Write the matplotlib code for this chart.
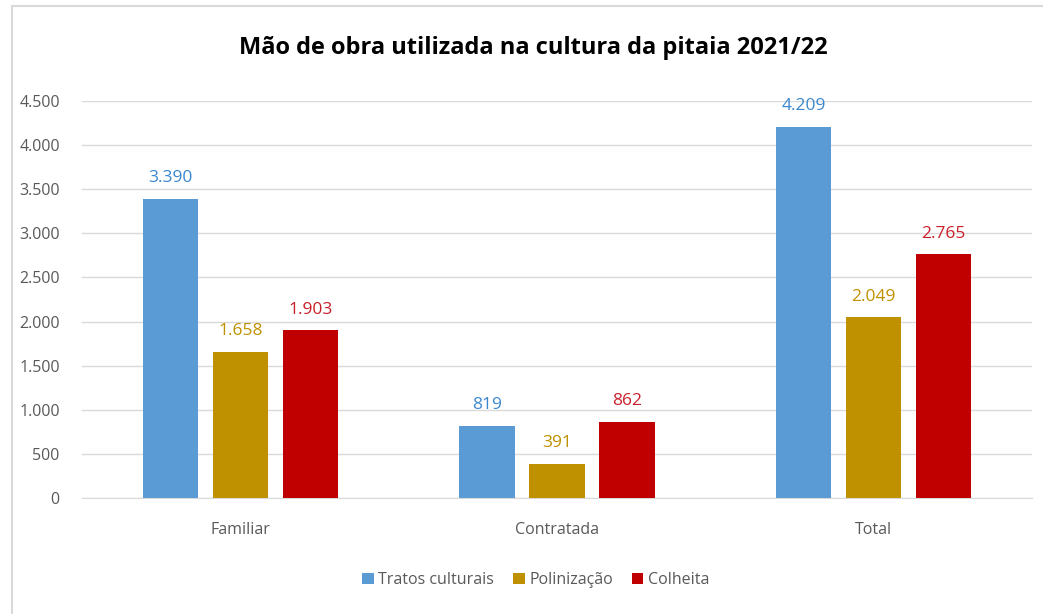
import matplotlib
matplotlib.use("Agg")
import matplotlib.pyplot as plt
from matplotlib.patches import Rectangle
from matplotlib.ticker import FuncFormatter
import numpy as np

categories = ["Familiar", "Contratada", "Total"]
series_names = ["Tratos culturais", "Polinização", "Colheita"]
tratos = [3390, 819, 4209]
polinizacao = [1658, 391, 2049]
colheita = [1903, 862, 2765]
colors = ["#5B9BD5", "#BF9000", "#C00000"]
label_colors = ["#3A87CF", "#BF9000", "#C8202A"]
yticks = [0, 500, 1000, 1500, 2000, 2500, 3000, 3500, 4000, 4500]

plt.rcParams['font.family'] = ['Open Sans', 'DejaVu Sans']

W, H = 1043, 614
fig = plt.figure(figsize=(W / 100, H / 100), dpi=100)

# chart border (light gray), visible only on left and top
fig.patches.append(Rectangle((12 / W, -20 / H), (W + 20) / W, (H + 20 - 6) / H, transform=fig.transFigure,
                             fill=False, edgecolor="#D9D9D9", linewidth=1.5))

left, right = 82 / W, 1032 / W
bottom, top = (H - 498) / H, (H - 101) / H
ax = fig.add_axes([left, bottom, right - left, top - bottom])

x = np.arange(len(categories))
width = 0.174
offsets = [-0.221, 0.0, 0.221]
for vals, name, c, lc, off in zip([tratos, polinizacao, colheita], series_names, colors, label_colors, offsets):
    bars = ax.bar(x + off, vals, width, color=c, label=name, zorder=3)
    for b, v in zip(bars, vals):
        ax.annotate(f"{v:,}".replace(",", "."), (b.get_x() + b.get_width() / 2, v),
                    xytext=(0, 9), textcoords="offset points", ha="center", va="bottom",
                    fontsize=12.5, color=lc)

ax.set_xlim(-0.5, 2.5)
ax.set_ylim(0, 4500)
ax.set_yticks(yticks)
ax.yaxis.set_major_formatter(FuncFormatter(lambda v, p: f"{int(v):,}".replace(",", ".")))
ax.set_xticks(x)
ax.set_xticklabels(categories)
ax.grid(axis="y", color="#D9D9D9", linewidth=1, zorder=0)
for s in ["top", "right", "left"]:
    ax.spines[s].set_visible(False)
ax.spines["bottom"].set_color("#D9D9D9")
ax.tick_params(axis="both", length=0, labelsize=11.5, colors="#595959")
ax.tick_params(axis="x", pad=17)
ax.tick_params(axis="y", pad=16)

fig.text(533 / W, 1 - 48 / H, "Mão de obra utilizada na cultura da pitaia 2021/22",
         ha="center", va="center", fontsize=17, fontweight="bold", color="black")

handles, labels = ax.get_legend_handles_labels()
fig.legend(handles, labels, loc="center", bbox_to_anchor=(536 / W, 1 - 580 / H), ncol=3,
           frameon=False, fontsize=11.5, handlelength=0.7, handleheight=0.7, handletextpad=0.3,
           columnspacing=1.2, labelcolor="#595959")

fig.savefig("out.png", dpi=100)
